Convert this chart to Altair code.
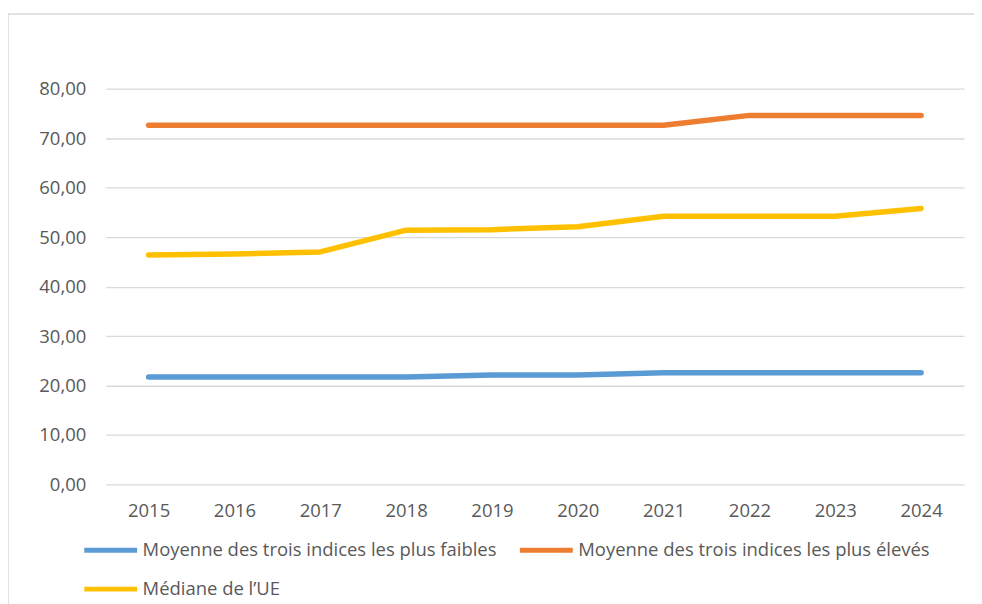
import altair as alt
import pandas as pd

years = ["2015", "2016", "2017", "2018", "2019", "2020", "2021", "2022", "2023", "2024"]
low = [21.7, 21.7, 21.7, 21.7, 22.1, 22.1, 22.6, 22.6, 22.6, 22.6]
high = [72.6, 72.6, 72.6, 72.6, 72.6, 72.6, 72.6, 74.6, 74.6, 74.6]
median = [46.4, 46.6, 47.0, 51.4, 51.5, 52.1, 54.2, 54.2, 54.2, 55.8]

series_names = [
    "Moyenne des trois indices les plus faibles",
    "Moyenne des trois indices les plus élevés",
    "Médiane de l’UE",
]
colors = ["#5B9BD5", "#ED7D31", "#FFC000"]

rows = []
for name, vals in zip(series_names, [low, high, median]):
    for y, v in zip(years, vals):
        rows.append({"annee": y, "valeur": v, "serie": name})
df = pd.DataFrame(rows)

FONT = "Open Sans"
GREY = "#595959"
FS = 18.5

lines = alt.Chart(df).mark_line(strokeWidth=5.5, strokeCap="round", strokeJoin="round").encode(
    x=alt.X("annee:O", sort=years, title=None,
            scale=alt.Scale(type="point", padding=0.5),
            axis=alt.Axis(labelAngle=0, labelFont=FONT, labelFontSize=FS, labelColor=GREY,
                          ticks=False, domain=False, labelPadding=17, grid=False)),
    y=alt.Y("valeur:Q", title=None,
            scale=alt.Scale(domain=[0, 80], nice=False),
            axis=alt.Axis(values=[0, 10, 20, 30, 40, 50, 60, 70, 80],
                          labelExpr="replace(format(datum.value, '.2f'), '.', ',')",
                          labelFont=FONT, labelFontSize=FS, labelColor=GREY,
                          ticks=False, domain=False, labelPadding=20,
                          gridColor="#D9D9D9", gridWidth=1.3)),
    color=alt.Color("serie:N", sort=series_names,
                    scale=alt.Scale(domain=series_names, range=colors),
                    legend=alt.Legend(title=None, orient="none", legendX=-24, legendY=434,
                                      direction="horizontal", columns=2,
                                      symbolType="stroke", symbolStrokeWidth=5, symbolSize=2809,
                                      labelFont=FONT, labelFontSize=FS, labelColor=GREY,
                                      labelOffset=3, columnPadding=12, rowPadding=-12,
                                      labelLimit=500)),
)

# decorative chart border (top and left edges visible in the reference)
border_top = alt.Chart(pd.DataFrame({"a": [0]})).mark_rule(color="#D9D9D9", strokeWidth=1.5).encode(
    x=alt.value(-98), x2=alt.value(900), y=alt.value(-75))
border_left = alt.Chart(pd.DataFrame({"a": [0]})).mark_rule(color="#D9D9D9", strokeWidth=1.5).encode(
    x=alt.value(-98), y=alt.value(-75), y2=alt.value(530))

chart = alt.layer(border_top, border_left, lines).properties(
    width=861, height=397,
    autosize=alt.AutoSizeParams(type="none"),
    padding={"left": 98, "top": 80, "right": 10, "bottom": 119},
    background="white",
).configure_view(stroke=None)

chart.save("out.html", embed_options={"renderer": "svg", "actions": False})
